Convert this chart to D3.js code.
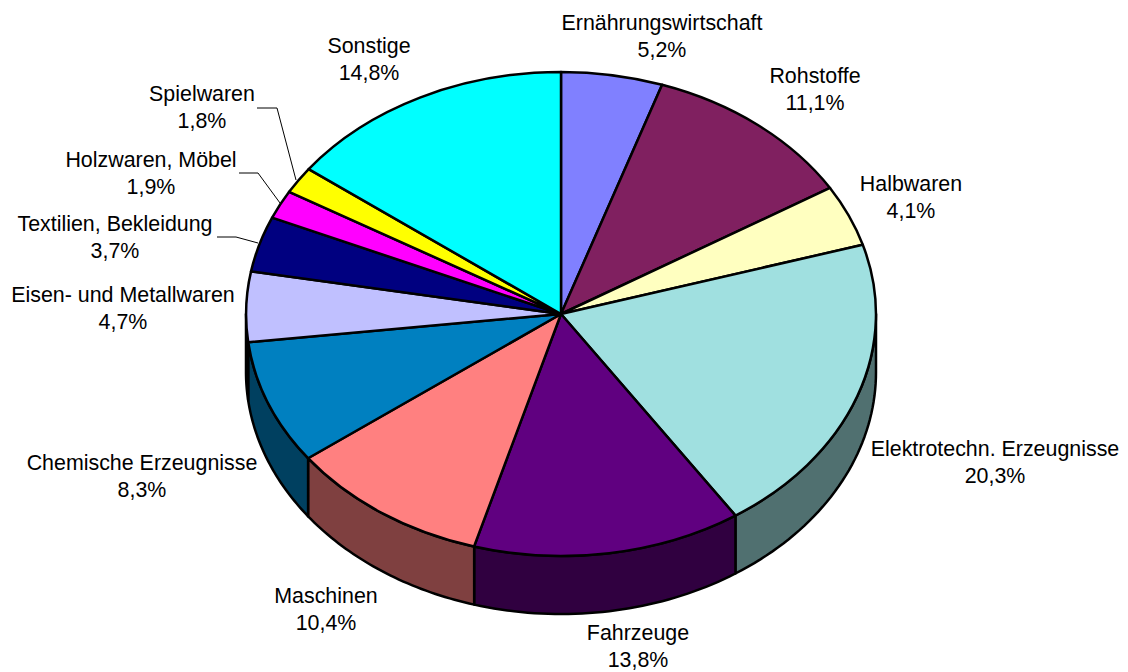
<!DOCTYPE html>
<html>
<head>
<meta charset="utf-8">
<script src="https://cdn.jsdelivr.net/npm/d3@7"></script>
<style>
  body { margin: 0; background: #fff; }
  text { font-family: "Liberation Sans", Arial, sans-serif; font-size: 21.4px; fill: #000; }
</style>
</head>
<body>
<svg id="chart" width="1128" height="672"></svg>
<script>
const categories = ['Ernährungswirtschaft', 'Rohstoffe', 'Halbwaren', 'Elektrotechn. Erzeugnisse', 'Fahrzeuge',
  'Maschinen', 'Chemische Erzeugnisse', 'Eisen- und Metallwaren', 'Textilien, Bekleidung', 'Holzwaren, Möbel',
  'Spielwaren', 'Sonstige']
const values = [5.2, 11.1, 4.1, 20.3, 13.8, 10.4, 8.3, 4.7, 3.7, 1.9, 1.8, 14.8]
const colors = ['#8080ff', '#802060', '#ffffc0', '#a0e0e0', '#600080', '#ff8080',
  '#0080c0', '#c0c0ff', '#000080', '#ff00ff', '#ffff00', '#00ffff']

// label centre x / first baseline y, same order as categories
const labelX = [662, 815, 911, 995, 638, 326, 142, 123, 115, 151, 202, 369]
const labelY = [30, 83, 191, 456, 640, 603, 470, 302, 231, 167, 101, 53]

// leader lines for the three small slices
const leaders = [
  {i: 8, pts: [[217, 237], [236, 237], [258, 243]]},
  {i: 9, pts: [[239, 173], [258, 173], [280, 203]]},
  {i: 10, pts: [[257, 108], [277, 108], [296, 180]]}
]

const cx = 561, cy = 314, rx = 315, ry = 242, depth = 58

const svg = d3.select('#chart')

const slices = d3.pie().sort(null).value(d => d)(values)

// unit circle -> squashed ellipse
const px = d3.scaleLinear().domain([-1, 1]).range([cx - rx, cx + rx])
const py = d3.scaleLinear().domain([-1, 1]).range([cy - ry, cy + ry])

function sidePath(a0, a1) {
  let pts = d3.range(0, 41).map(k => a0 + (a1 - a0) * k / 40)
  let top = pts.map(a => [px(Math.sin(a)), py(-Math.cos(a))])
  let bottom = pts.slice().reverse().map(a => [px(Math.sin(a)), py(-Math.cos(a)) + depth])
  return d3.line()(top.concat(bottom)) + 'Z'
}

// side wall, only the front half of the rim shows
svg.append('g').selectAll('path')
  .data(slices.filter(s => s.endAngle > Math.PI / 2 && s.startAngle < Math.PI * 1.5))
  .join('path')
  .attr('d', s => sidePath(Math.max(s.startAngle, Math.PI / 2), Math.min(s.endAngle, Math.PI * 1.5)))
  .attr('fill', s => d3.rgb(colors[s.index]).darker(1.95))
  .attr('stroke', '#000')
  .attr('stroke-width', 2.5)
  .attr('stroke-linejoin', 'round')

const arc = d3.arc().innerRadius(0).outerRadius(1)

svg.append('g')
  .attr('transform', `translate(${cx},${cy}) scale(${rx},${ry})`)
  .selectAll('path')
  .data(slices)
  .join('path')
  .attr('d', arc)
  .attr('fill', s => colors[s.index])
  .attr('stroke', '#000')
  .attr('stroke-width', 2.5)
  .attr('stroke-linejoin', 'round')
  .attr('vector-effect', 'non-scaling-stroke')

svg.append('g').selectAll('path')
  .data(leaders)
  .join('path')
  .attr('d', d => d3.line()(d.pts))
  .attr('fill', 'none')
  .attr('stroke', '#000')
  .attr('stroke-width', 1)

const labels = svg.append('g').selectAll('text')
  .data(categories)
  .join('text')
  .attr('text-anchor', 'middle')
  .attr('x', (d, i) => labelX[i])
  .attr('y', (d, i) => labelY[i])

labels.append('tspan').text(d => d)
labels.append('tspan')
  .attr('x', (d, i) => labelX[i])
  .attr('dy', 27)
  .text((d, i) => String(values[i]).replace('.', ',') + '%')
</script>
</body>
</html>
